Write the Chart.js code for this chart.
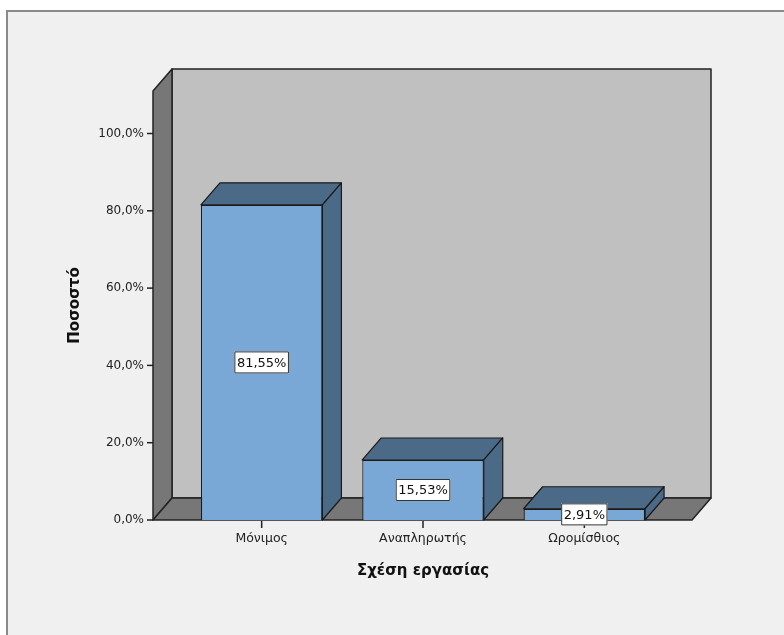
<!DOCTYPE html>
<html>
<head>
<meta charset="utf-8">
<script src="https://cdn.jsdelivr.net/npm/chart.js@4/dist/chart.umd.min.js"></script>
<style>
  html, body { margin: 0; padding: 0; background: #ffffff; }
  #wrap { width: 784px; height: 635px; position: relative; }
</style>
</head>
<body>
<div id="wrap"><canvas id="chart" width="784" height="635"></canvas></div>
<script>
// Σχέση εργασίας - ποσοστά
const categories = ["Μόνιμος", "Αναπληρωτής", "Ωρομίσθιος"];
const percents = [81.55, 15.53, 2.91];
const yMax = 111;
const yStep = 20;

// βάθος 3Δ
const DX = 19, DY = 22;
const WALL_L = 28, WALL_R = 27;

const fontFamily = "'DejaVu Sans', Verdana, sans-serif";
const fmtPct = (v, d) => v.toFixed(d).replace(".", ",") + "%";

// φόντο + πλαίσιο
const framePlugin = {
    id: "frame",
    beforeDraw(chart) {
        const ctx = chart.ctx;
        ctx.save();
        ctx.fillStyle = "#ffffff";
        ctx.fillRect(0, 0, chart.width, chart.height);
        ctx.fillStyle = "#f0f0f0";
        ctx.fillRect(7, 11, chart.width - 7, chart.height - 11);
        ctx.strokeStyle = "#8a8a8a";
        ctx.lineWidth = 2;
        ctx.beginPath();
        ctx.moveTo(7, chart.height);
        ctx.lineTo(7, 11);
        ctx.lineTo(chart.width, 11);
        ctx.stroke();
        ctx.restore();
    }
};

function poly(ctx, pts, fill) {
    ctx.beginPath();
    ctx.moveTo(pts[0][0], pts[0][1]);
    for (let i = 1; i < pts.length; i++) ctx.lineTo(pts[i][0], pts[i][1]);
    ctx.closePath();
    ctx.fillStyle = fill;
    ctx.fill();
    ctx.stroke();
}

// τοίχοι, δάπεδο και γραμμές υποδιαίρεσης
const wallsPlugin = {
    id: "walls",
    beforeDatasetsDraw(chart) {
        const ctx = chart.ctx;
        const a = chart.chartArea;
        const y = chart.scales.y, x = chart.scales.x;
        const l = a.left - WALL_L, r = a.right + WALL_R;
        const top = y.getPixelForValue(yMax), bot = y.getPixelForValue(0);
        ctx.save();
        ctx.strokeStyle = "#222222";
        ctx.lineWidth = 1.5;
        ctx.lineJoin = "round";
        // πίσω τοίχος
        poly(ctx, [[l + DX, top - DY], [r + DX, top - DY], [r + DX, bot - DY], [l + DX, bot - DY]], "#c0c0c0");
        // αριστερός τοίχος
        poly(ctx, [[l, top], [l + DX, top - DY], [l + DX, bot - DY], [l, bot]], "#777777");
        // δάπεδο
        poly(ctx, [[l, bot], [l + DX, bot - DY], [r + DX, bot - DY], [r, bot]], "#777777");
        // γραμμές υποδιαίρεσης άξονα y
        y.ticks.forEach(t => {
            const py = y.getPixelForValue(t.value);
            ctx.beginPath();
            ctx.moveTo(l - 6, py);
            ctx.lineTo(l, py);
            ctx.stroke();
        });
        // γραμμές υποδιαίρεσης άξονα x
        categories.forEach((c, i) => {
            const px = x.getPixelForValue(i);
            ctx.beginPath();
            ctx.moveTo(px, bot + 1);
            ctx.lineTo(px, bot + 8);
            ctx.stroke();
        });
        ctx.restore();
    }
};

// πάνω και πλαϊνή όψη των ράβδων + ετικέτες τιμών
const barsPlugin = {
    id: "bars3d",
    afterDatasetsDraw(chart) {
        const ctx = chart.ctx;
        const meta = chart.getDatasetMeta(0);
        ctx.save();
        ctx.strokeStyle = "#1a1a1a";
        ctx.lineWidth = 1.2;
        ctx.lineJoin = "round";
        meta.data.forEach(bar => {
            const p = bar.getProps(["x", "y", "base", "width"], true);
            const l = p.x - p.width / 2, r = p.x + p.width / 2;
            poly(ctx, [[l, p.y], [l + DX, p.y - DY], [r + DX, p.y - DY], [r, p.y]], "#4b6a88");
            poly(ctx, [[r, p.y], [r + DX, p.y - DY], [r + DX, p.base - DY], [r, p.base]], "#4b6a88");
        });
        ctx.font = "13px " + fontFamily;
        ctx.textAlign = "center";
        ctx.textBaseline = "middle";
        meta.data.forEach((bar, i) => {
            const p = bar.getProps(["x", "y", "base"], true);
            const txt = fmtPct(percents[i], 2);
            const cy = (p.y + p.base) / 2;
            const w = ctx.measureText(txt).width + 5, h = 22;
            ctx.fillStyle = "#ffffff";
            ctx.fillRect(p.x - w / 2, cy - h / 2, w, h);
            ctx.strokeStyle = "#333333";
            ctx.lineWidth = 1;
            ctx.strokeRect(p.x - w / 2 + 0.5, cy - h / 2 + 0.5, w - 1, h - 1);
            ctx.fillStyle = "#111111";
            ctx.fillText(txt, p.x, cy + 1);
        });
        ctx.restore();
    }
};

new Chart(document.getElementById("chart").getContext("2d"), {
    type: "bar",
    data: {
        labels: categories,
        datasets: [{
            data: percents,
            backgroundColor: "#7aa8d6",
            borderColor: "#1a1a1a",
            borderWidth: 1.2,
            barPercentage: 0.753,
            categoryPercentage: 1
        }]
    },
    options: {
        responsive: false,
        animation: false,
        layout: { padding: { left: 66, top: 91, right: 119, bottom: 55 } },
        plugins: { legend: { display: false }, tooltip: { enabled: false } },
        scales: {
            x: {
                grid: { display: false, drawTicks: false },
                border: { display: false },
                ticks: { color: "#222222", padding: 11, font: { family: fontFamily, size: 12.5 } },
                title: {
                    display: true,
                    text: "Σχέση εργασίας",
                    color: "#111111",
                    padding: 0,
                    font: { family: fontFamily, size: 15, weight: "bold" }
                },
                afterFit: s => { s.height = 60; }
            },
            y: {
                min: 0,
                max: yMax,
                grid: { display: false, drawTicks: false },
                border: { display: false },
                ticks: {
                    stepSize: yStep,
                    color: "#222222",
                    padding: 37,
                    font: { family: fontFamily, size: 12 },
                    callback: v => fmtPct(v, 1)
                },
                afterBuildTicks: s => { s.ticks = s.ticks.filter(t => t.value <= 100); },
                title: {
                    display: true,
                    text: "Ποσοστό",
                    color: "#111111",
                    padding: 0,
                    font: { family: fontFamily, size: 15, weight: "bold" }
                },
                afterFit: s => { s.width = 115; }
            }
        }
    },
    plugins: [framePlugin, wallsPlugin, barsPlugin]
});
</script>
</body>
</html>
